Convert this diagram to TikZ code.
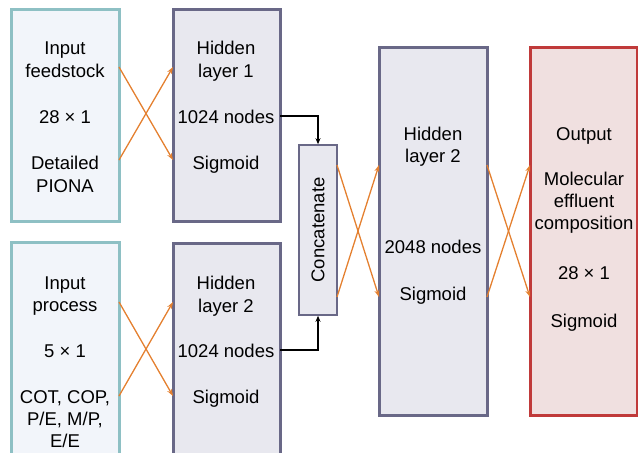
\documentclass[tikz,border=0pt]{standalone}
\usepackage{fontspec}
\setmainfont{Liberation Sans}
\usetikzlibrary{arrows.meta}
\definecolor{inborder}{RGB}{142,192,196}
\definecolor{infill}{RGB}{242,245,250}
\definecolor{hidborder}{RGB}{105,104,135}
\definecolor{hidfill}{RGB}{232,232,239}
\definecolor{outborder}{RGB}{192,58,58}
\definecolor{outfill}{RGB}{240,224,224}
\definecolor{orng}{RGB}{228,128,48}
\begin{document}
\begin{tikzpicture}[x=1pt,y=-1pt,
  inbox/.style={draw=inborder,fill=infill,line width=3pt},
  hidbox/.style={draw=hidborder,fill=hidfill,line width=3pt},
  catbox/.style={draw=hidborder,fill=hidfill,line width=1.6pt},
  outbox/.style={draw=outborder,fill=outfill,line width=3pt},
  lbl/.style={inner sep=0pt,font=\fontsize{18.5}{22.5}\selectfont,align=center,anchor=base},
  cross/.style={draw=orng,line width=1.3pt,-{Stealth[length=7pt,width=5pt]}},
  joinline/.style={draw=black,line width=1.4pt,-{Stealth[length=6pt,width=5pt]}}]
\useasboundingbox (0,0) rectangle (638,453);
% boxes
\path[inbox] (11,9) rectangle (119,221);
\path[hidbox] (173,9) rectangle (280,221);
\path[inbox] (11,242) rectangle (119,456);
\path[hidbox] (173,243) rectangle (280,456);
\node[catbox,minimum width=38pt,minimum height=170pt,inner sep=0pt] (cat) at (318,230) {};
\node[rotate=90,font=\fontsize{18.5}{20}\selectfont,inner sep=0pt] (cattext) at (cat.center) {Concatenate};
\path[hidbox] (379,47) rectangle (487,415);
\path[outbox] (530,47) rectangle (637,415);
% coordinates
\coordinate (a1) at (119,67); \coordinate (a2) at (119,160);
\coordinate (b1) at (173,67); \coordinate (b2) at (173,160);
\coordinate (c1) at (119,302); \coordinate (c2) at (119,396);
\coordinate (d1) at (173,302); \coordinate (d2) at (173,396);
\coordinate (e1) at (337,165); \coordinate (e2) at (337,297);
\coordinate (f1) at (379,165); \coordinate (f2) at (379,297);
\coordinate (g1) at (487,165); \coordinate (g2) at (487,297);
\coordinate (h1) at (530,165); \coordinate (h2) at (530,297);
\coordinate (j1) at (280,116); \coordinate (j2) at (280,350);
% labels input feedstock
\node[lbl] (t1) at (65,54) {Input};
\node[lbl] (t2) at (65,77) {feedstock};
\node[lbl] (t3) at (65,123) {28 × 1};
\node[lbl] (t4) at (65,169) {Detailed};
\node[lbl] (t5) at (65,192) {PIONA};
% hidden 1
\node[lbl] (u1) at (226,54) {Hidden};
\node[lbl] (u2) at (226,77) {layer 1};
\node[lbl] (u3) at (226,123) {1024 nodes};
\node[lbl] (u4) at (226,169) {Sigmoid};
% input process
\node[lbl] (v1) at (65,289) {Input};
\node[lbl] (v2) at (65,311) {process};
\node[lbl] (v3) at (65,357) {5 × 1};
\node[lbl] (v4) at (65,403) {COT, COP,};
\node[lbl] (v5) at (65,425) {P/E, M/P,};
\node[lbl] (v6) at (65,447) {E/E};
% hidden 2 left
\node[lbl] (w1) at (226,289) {Hidden};
\node[lbl] (w2) at (226,312) {layer 2};
\node[lbl] (w3) at (226,357) {1024 nodes};
\node[lbl] (w4) at (226,403) {Sigmoid};
% middle
\node[lbl] (m1) at (433,140) {Hidden};
\node[lbl] (m2) at (433,162) {layer 2};
\node[lbl] (m3) at (433,253) {2048 nodes};
\node[lbl] (m4) at (433,300) {Sigmoid};
% output
\node[lbl] (o1) at (584,140) {Output};
\node[lbl] (o2) at (584,185) {Molecular};
\node[lbl] (o3) at (584,207) {effluent};
\node[lbl] (o4) at (584,229) {composition};
\node[lbl] (o5) at (584,279) {28 × 1};
\node[lbl] (o6) at (584,327) {Sigmoid};
% crosses
\draw[cross] (a1) -- (b2);
\draw[cross] (a2) -- (b1);
\draw[cross] (c1) -- (d2);
\draw[cross] (c2) -- (d1);
\draw[cross] (e1) -- (f2);
\draw[cross] (e2) -- (f1);
\draw[cross] (g1) -- (h2);
\draw[cross] (g2) -- (h1);
% joins
\draw[joinline] (j1) -| (cat.north);
\draw[joinline] (j2) -| (cat.south);
\end{tikzpicture}
\end{document}
